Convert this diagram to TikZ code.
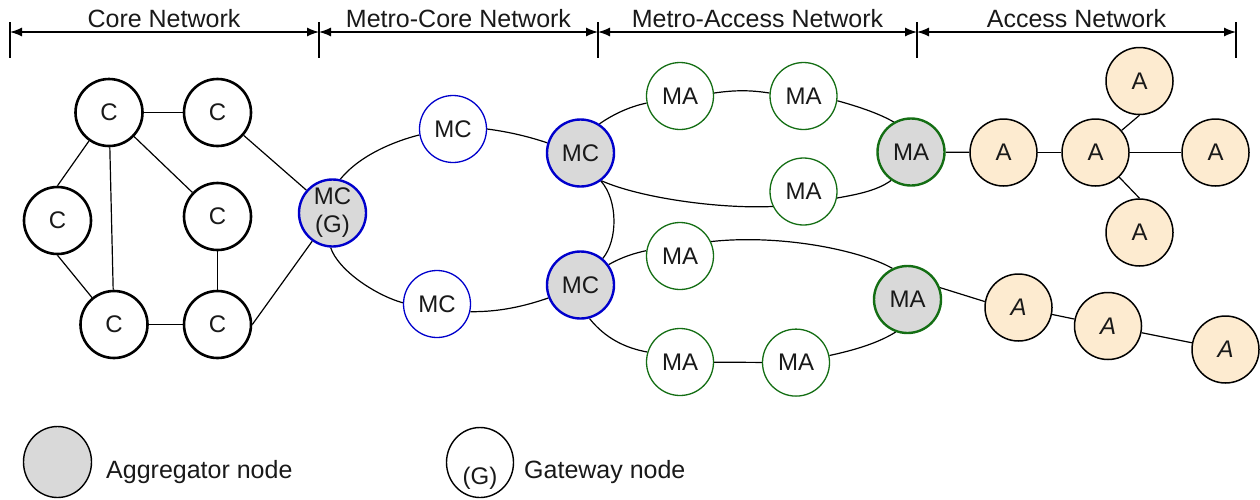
\documentclass[tikz,border=0pt]{standalone}
\usepackage{fontspec}
\setmainfont{Liberation Sans}
\usetikzlibrary{arrows.meta,shapes.geometric}
\definecolor{aggfill}{RGB}{217,217,217}
\definecolor{mcblue}{RGB}{0,0,204}
\definecolor{magreen}{RGB}{20,110,20}
\definecolor{apeach}{RGB}{253,235,208}
\pgfdeclarelayer{bg}
\pgfsetlayers{bg,main}
\begin{document}
\begin{tikzpicture}[x=1pt,y=1pt,
  lbl/.style={font=\fontsize{24}{28}\selectfont},
  nd/.style={circle, minimum size=67pt, inner sep=0pt, lbl, align=center, text=black!90},
  core/.style={nd, draw=black, line width=2.6pt, fill=white},
  mcagg/.style={nd, draw=mcblue, line width=2.4pt, fill=aggfill},
  mc/.style={nd, draw=mcblue, line width=1.3pt, fill=white},
  ma/.style={nd, draw=magreen, line width=1.3pt, fill=white},
  maagg/.style={nd, draw=magreen, line width=2.4pt, fill=aggfill},
  acc/.style={nd, draw=black, line width=1.5pt, fill=apeach},
  link/.style={draw=black, line width=1.2pt},
  hdr/.style={line width=1.3pt, {Latex[length=12pt,width=9pt]}-{Latex[length=12pt,width=9pt]}},
  tickline/.style={line width=1.3pt},
  htext/.style={font=\fontsize{25}{30}\selectfont, anchor=base, inner sep=0pt, text=black!90},
  legtext/.style={font=\fontsize{25}{30}\selectfont, anchor=base west, inner sep=0pt, text=black!90},
  legshape/.style={ellipse, draw=black, line width=1.4pt, inner sep=0pt},
]
\useasboundingbox (0,0) rectangle (1260,-499);

% ---------- header ----------
\coordinate (t0) at (10,-32);
\coordinate (t1) at (319,-32);
\coordinate (t2) at (598,-32);
\coordinate (t3) at (917,-32);
\coordinate (t4) at (1236,-32);
\foreach \x in {10,319,598,917,1236}{\draw[tickline] (\x,-22) -- (\x,-58);}
\draw[hdr] (t0) -- (t1);
\draw[hdr] (t1) -- (t2);
\draw[hdr] (t2) -- (t3);
\draw[hdr] (t3) -- (t4);
\node[htext] (h1) at (164,-27) {Core Network};
\node[htext] (h2) at (458.5,-27) {Metro-Core Network};
\node[htext] (h3) at (757.5,-27) {Metro-Access Network};
\node[htext] (h4) at (1076.5,-27) {Access Network};

% ---------- core ----------
\node[core] (C1) at (109,-112.5) {C};
\node[core] (C2) at (217.5,-112.5) {C};
\node[core] (C3) at (57.5,-220.5) {C};
\node[core] (C4) at (217.5,-216.5) {C};
\node[core] (C5) at (114,-324.5) {C};
\node[core] (C6) at (217.5,-324.5) {C};

% ---------- metro core ----------
\node[mcagg] (MCG) at (332.5,-213) {MC\\(G)};
\node[mc] (MCt) at (453,-129) {MC};
\node[mcagg] (MCA) at (580.5,-153) {MC};
\node[mc] (MCb) at (437,-304) {MC};
\node[mcagg] (MCB) at (580.5,-285) {MC};

% ---------- metro access ----------
\node[ma] (MA1) at (680,-96) {MA};
\node[ma] (MA2) at (803.5,-96) {MA};
\node[ma] (MA3) at (803.5,-191.5) {MA};
\node[maagg] (MAA) at (911,-152) {MA};
\node[ma] (MA4) at (680,-256) {MA};
\node[maagg] (MAB) at (907.5,-299.5) {MA};
\node[ma] (MA5) at (680,-362) {MA};
\node[ma] (MA6) at (796,-362.6) {MA};

% ---------- access ----------
\node[acc] (A1) at (1003.5,-152.5) {A};
\node[acc] (A2) at (1095.5,-152.5) {A};
\node[acc] (At) at (1139.5,-81) {A};
\node[acc] (Ar) at (1215.5,-152.5) {A};
\node[acc] (Ab) at (1139.5,-232.5) {A};
\node[acc] (Ai1) at (1018.5,-307.5) {\itshape A};
\node[acc] (Ai2) at (1108,-326) {\itshape A};
\node[acc] (Ai3) at (1225.5,-349.5) {\itshape A};

% ---------- links ----------
\begin{pgfonlayer}{bg}
\draw[link] (C1) -- (C2);
\draw[link] (C1) -- (C3.north);
\draw[link] (C1) -- (C5);
\draw[link] (C1) -- (C4);
\draw[link] (C3.south) -- (C5);
\draw[link] (C4) -- (C6);
\draw[link] (C5) -- (C6);
\draw[link] (C2) -- (MCG);
\draw[link] (C6.east) -- (MCG);

\draw[link] (MCG.77) .. controls (360,-155) and (395,-141) .. (MCt.190);
\draw[link] (MCt.0) .. controls (510,-132) and (530,-137) .. (MCA.163);
\draw[link] (MCA.-54) .. controls (618,-200) and (618,-240) .. (MCB.50);
\draw[link] (MCG.-93) .. controls (338,-270) and (375,-295) .. (MCb.178);
\draw[link] (MCb.-13) .. controls (500,-312) and (525,-306) .. (MCB.202);

\draw[link] (MCA.57) .. controls (615,-113) and (632,-106) .. (MA1.192);
\draw[link] (MA1.5) .. controls (735,-90) and (750,-90) .. (MA2.175);
\draw[link] (MA2.-8) .. controls (860,-107) and (880,-114) .. (MAA.120);
\draw[link] (MCA.-53) .. controls (640,-198) and (720,-209) .. (MA3.206);
\draw[link] (MA3.-11) .. controls (860,-194) and (878,-190) .. (MAA.235);
\draw[link] (MAA) -- (A1);
\draw[link] (MCB.36) .. controls (622,-257) and (635,-253) .. (MA4.171);
\draw[link] (MA4.25) .. controls (780,-234) and (860,-250) .. (MAB.116);
\draw[link] (MCB.-75) .. controls (605,-338) and (625,-348) .. (MA5.163);
\draw[link] (MA5) -- (MA6);
\draw[link] (MA6.12) .. controls (855,-350) and (878,-343) .. (MAB.-110);
\draw[link] (MAB.20) -- (Ai1.170);

\draw[link] (A1) -- (A2);
\draw[link] (A2) -- (At.south);
\draw[link] (A2) -- (Ar);
\draw[link] (A2) -- (Ab.north);
\draw[link] (Ai1) -- (Ai2);
\draw[link] (Ai2) -- (Ai3);
\end{pgfonlayer}

% ---------- legend ----------
\node[legshape, fill=aggfill, minimum width=68pt, minimum height=71pt] (LA) at (57.5,-462) {};
\node[legtext] (LAt) at (106,-478) {Aggregator node};
\node[legshape, fill=white, minimum width=67pt, minimum height=70pt] (LG) at (480,-462.5) {};
\node[lbl, inner sep=0pt, text=black!90] (LGg) at (480,-478) {(G)};
\node[legtext] (LGt) at (524,-478) {Gateway node};
\end{tikzpicture}
\end{document}
